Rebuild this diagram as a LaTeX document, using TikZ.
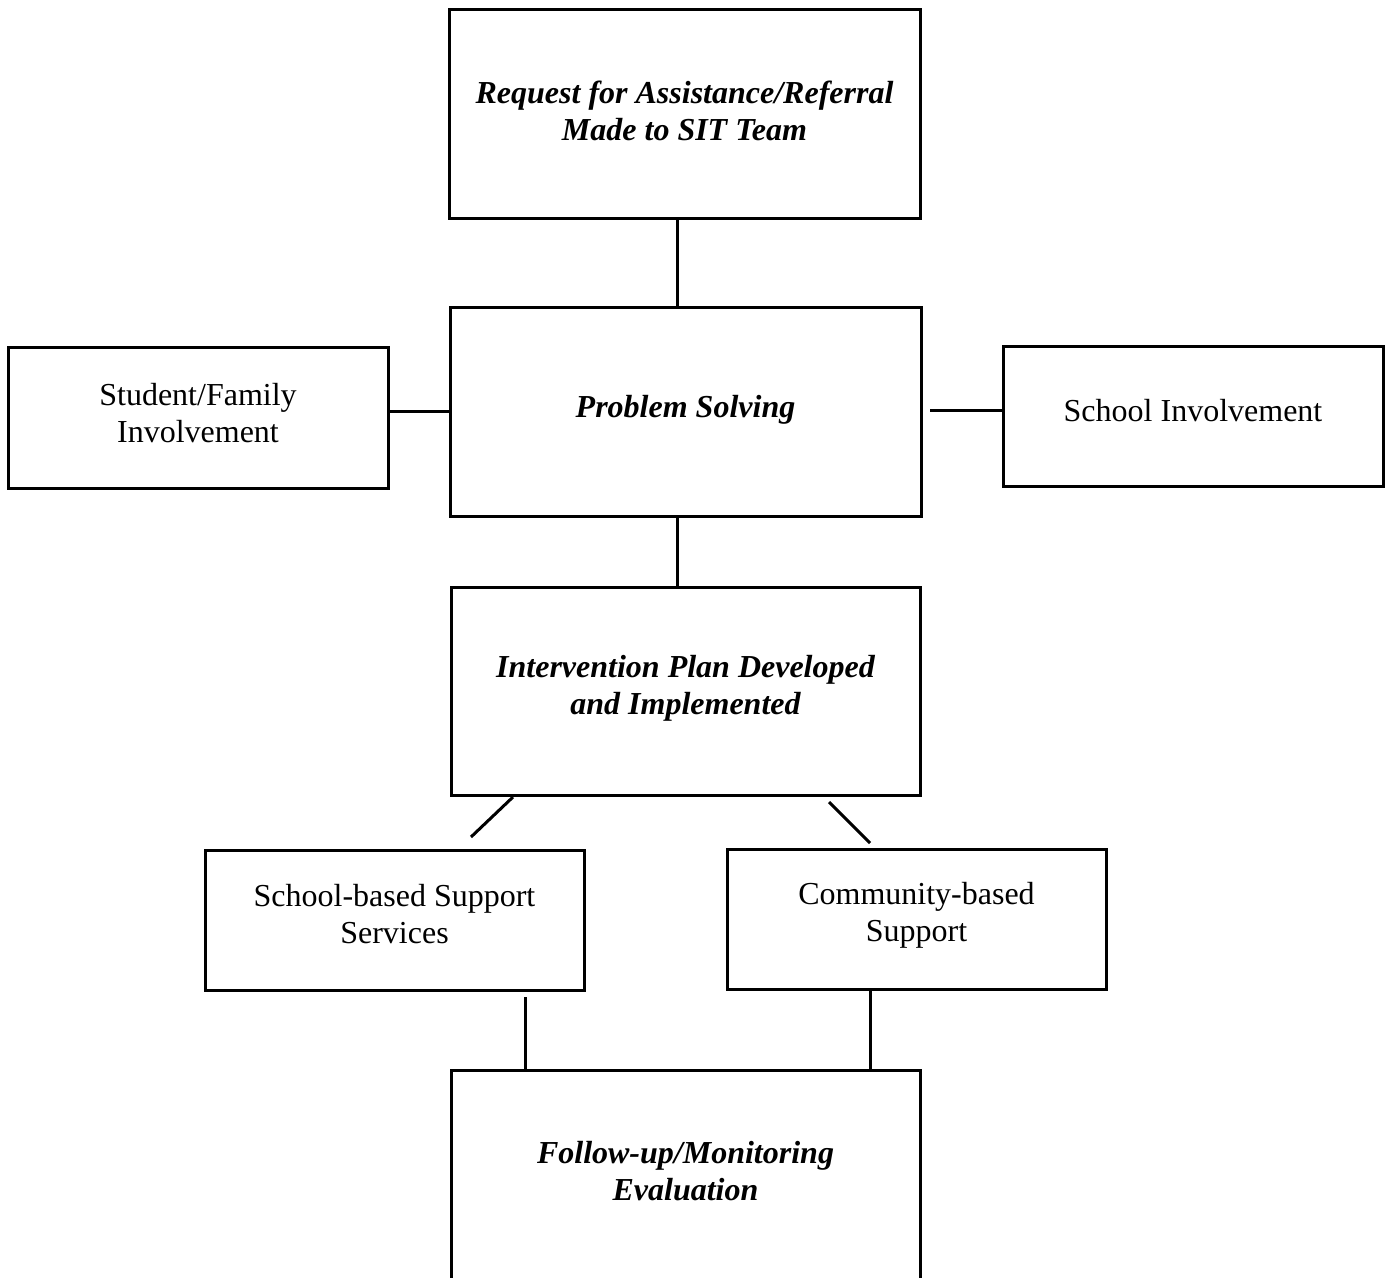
\documentclass[tikz,border=0pt]{standalone}
\usepackage{fontspec}
\setmainfont{Liberation Serif}
\begin{document}
\begin{tikzpicture}[x=1pt,y=-1pt,
  box/.style={draw=black,line width=3pt,fill=white,inner sep=0pt},
  txt/.style={align=center,font=\fontsize{32}{37}\selectfont,inner sep=0pt},
  btxt/.style={txt,font=\fontsize{32}{37}\selectfont\bfseries\itshape},
  conn/.style={line width=3pt,line cap=butt}]
\path[use as bounding box] (0,0) rectangle (1389,1277);
\clip (0,0) rectangle (1389,1277);
% boxes
\node[box,minimum width=471pt,minimum height=209pt] (b1) at (684.5,113.5) {};
\node[box,minimum width=471pt,minimum height=209pt] (b2) at (685.5,411.5) {};
\node[box,minimum width=380pt,minimum height=141pt] (L) at (198,417.5) {};
\node[box,minimum width=380pt,minimum height=140pt] (R) at (1193,416) {};
\node[box,minimum width=469pt,minimum height=208pt] (b3) at (685.5,691) {};
\node[box,minimum width=379pt,minimum height=140pt] (s1) at (394.5,920) {};
\node[box,minimum width=379pt,minimum height=140pt] (s2) at (916.5,919) {};
\node[box,minimum width=469pt,minimum height=209pt] (b6) at (685.5,1175) {};
% texts
\node[btxt] (t1) at (684.5,110.5) {Request for Assistance/Referral\\Made to SIT Team};
\node[btxt] (t2) at (685.5,409.5) {Problem Solving};
\node[txt] (tL) at (198,413) {Student/Family\\Involvement};
\node[txt] (tR) at (1193,410.5) {School Involvement};
\node[btxt] (t3) at (685.5,688.5) {Intervention Plan Developed\\and Implemented};
\node[txt] (ts1) at (394.5,914.5) {School-based Support\\Services};
\node[txt] (ts2) at (916.5,915) {Community-based\\Support};
\node[btxt] (t6) at (685.5,1171) {Follow-up/Monitoring\\Evaluation};
% connectors
\draw[conn] ([xshift=-7.5pt]b1.south) -- ([xshift=-7.5pt]b1.south |- b2.north);
\draw[conn] ([yshift=6.5pt]L.east) -- ([yshift=6.5pt]L.east -| b2.west);
\coordinate (rs) at (930,410);
\draw[conn] (rs) -- (rs -| R.west);
\draw[conn] ([xshift=-8.5pt]b2.south) -- ([xshift=-8.5pt]b2.south |- b3.north);
\coordinate (d1a) at (513,797);
\coordinate (d1b) at (471,837);
\draw[conn] (d1a) -- (d1b);
\coordinate (d2a) at (829,802);
\coordinate (d2b) at (870,843);
\draw[conn] (d2a) -- (d2b);
\coordinate (v1) at (525,997);
\draw[conn] (v1) -- (v1 |- b6.north);
\coordinate (v2) at (870,0);
\draw[conn] (v2 |- s2.south) -- (v2 |- b6.north);
\end{tikzpicture}
\end{document}
